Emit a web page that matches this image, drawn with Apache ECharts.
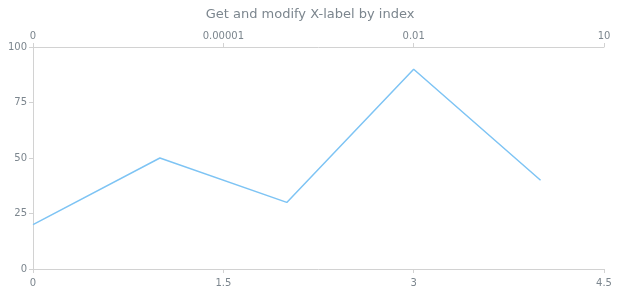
<!DOCTYPE html>
<html><head><meta charset="utf-8">
<script src="https://cdn.jsdelivr.net/npm/echarts@6/dist/echarts.min.js"></script>
<style>html,body{margin:0;padding:0;background:#fff}#c{width:620px;height:300px}</style>
</head><body><div id="c"></div>
<script>
const xValues = [0, 1, 2, 3, 4];
const yValues = [20, 50, 30, 90, 40];
const bottomTicks = [0, 1.5, 3, 4.5];
const topLabels = ['0', '0.00001', '0.01', '10'];
const yTicks = [0, 25, 50, 75, 100];

const axisColor = '#d2d2d2';
const labelColor = '#7c868e';
const chart = echarts.init(document.getElementById('c'), null, {renderer: 'canvas'});
const common = {
  type: 'value', min: 0, max: 4.5, interval: 1.5,
  axisLine: {lineStyle: {color: axisColor}},
  axisTick: {show: true, length: 4, lineStyle: {color: axisColor}},
  splitLine: {show: false},
  axisLabel: {color: labelColor, fontSize: 10, fontFamily: 'Verdana, DejaVu Sans, sans-serif', showMinLabel: true, showMaxLabel: true}
};
chart.setOption({
  animation: false,
  title: {text: 'Get and modify X-label by index', left: 'center', top: 3,
    textStyle: {color: labelColor, fontSize: 13, fontWeight: 'normal', fontFamily: 'Verdana, DejaVu Sans, sans-serif'}},
  grid: {left: 33, right: 16, top: 47, bottom: 31, containLabel: false},
  xAxis: [
    Object.assign({}, common, {position: 'bottom',
      axisLabel: Object.assign({}, common.axisLabel, {margin: 9, formatter: v => String(v)})}),
    Object.assign({}, common, {position: 'top',
      axisLabel: Object.assign({}, common.axisLabel, {margin: 6,
        formatter: v => { const i = bottomTicks.indexOf(v); return i >= 0 ? topLabels[i] : ''; }})})
  ],
  yAxis: {
    type: 'value', min: 0, max: 100, interval: 25,
    axisLine: {show: true, lineStyle: {color: axisColor}},
    axisTick: {show: true, length: 4, lineStyle: {color: axisColor}},
    splitLine: {show: false},
    axisLabel: {color: labelColor, fontSize: 10, margin: 6, fontFamily: 'Verdana, DejaVu Sans, sans-serif'}
  },
  series: [{
    type: 'line', xAxisIndex: 0,
    data: xValues.map((x, i) => [x, yValues[i]]),
    showSymbol: false, symbol: 'none',
    lineStyle: {color: '#7ec4f4', width: 1.5}
  }]
});
</script></body></html>
